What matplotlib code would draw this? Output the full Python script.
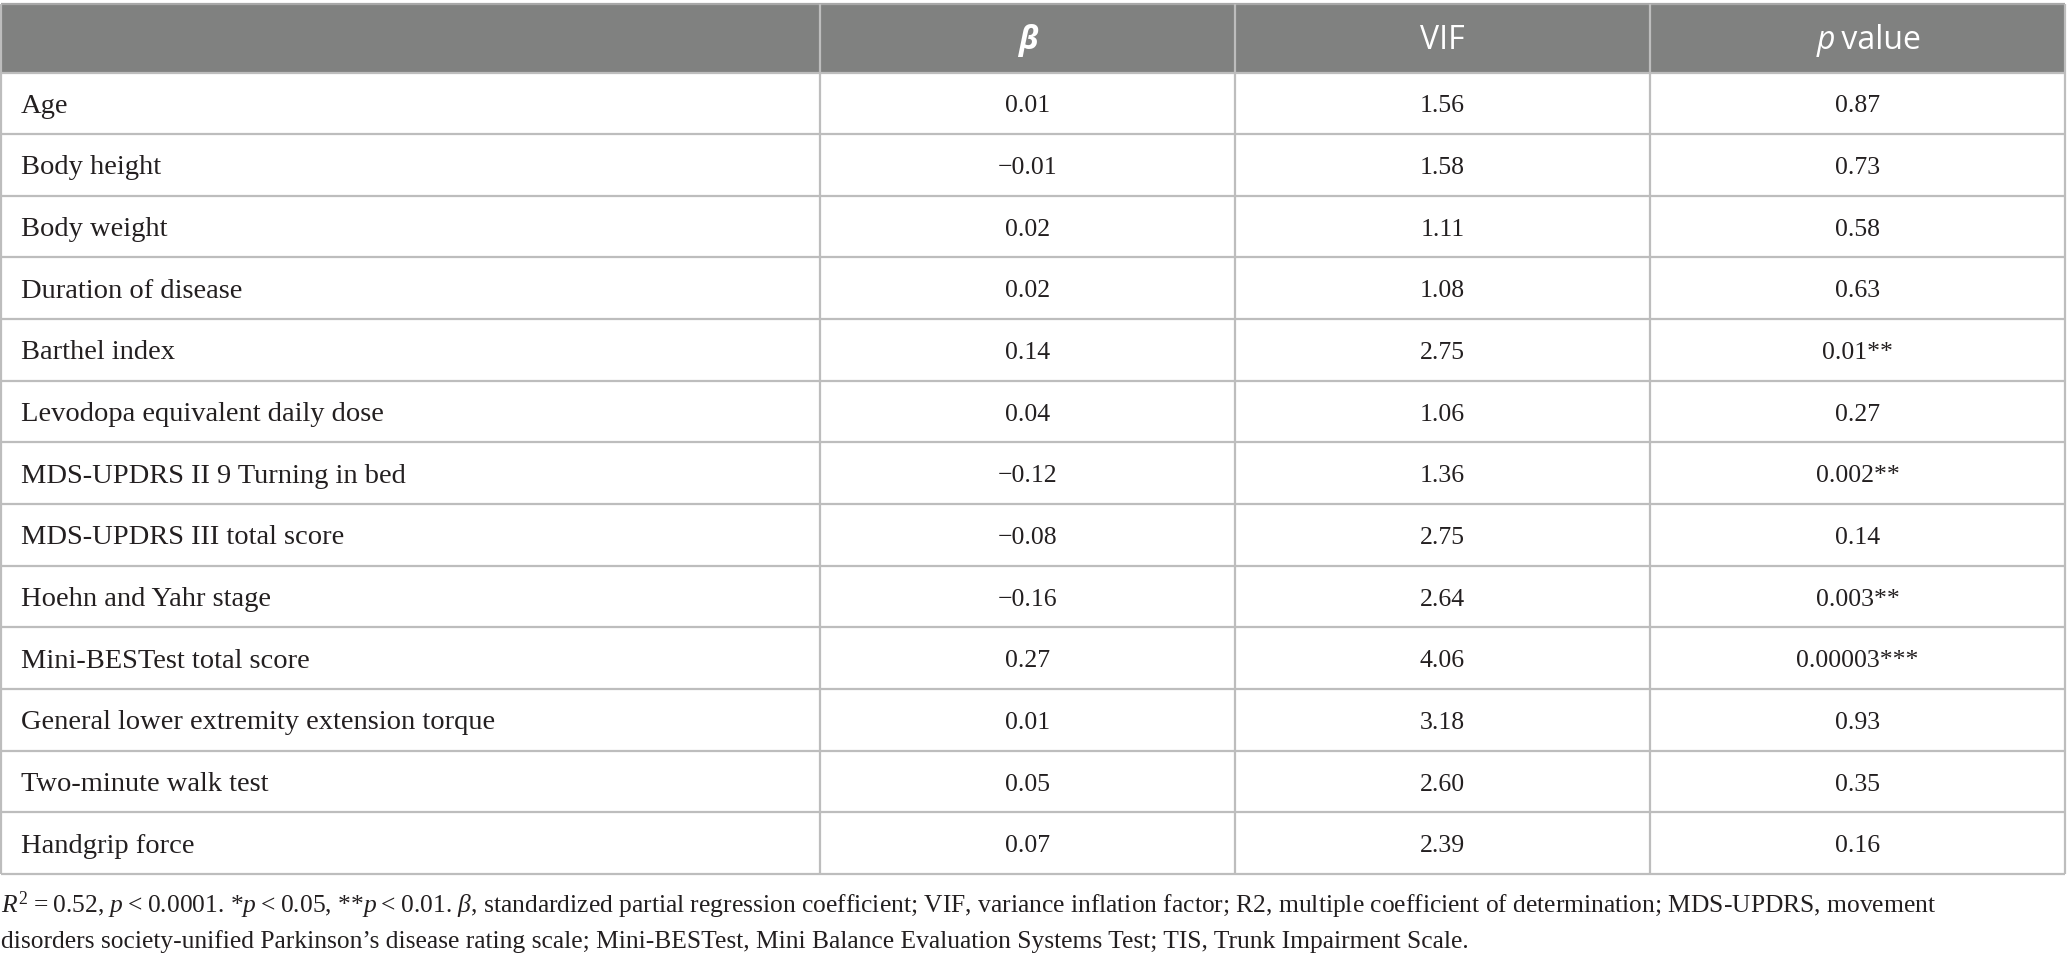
import matplotlib
matplotlib.use("Agg")
import matplotlib.pyplot as plt
from matplotlib.patches import Rectangle

# ---------------- data ----------------
variables = [
    "Age", "Body height", "Body weight", "Duration of disease", "Barthel index",
    "Levodopa equivalent daily dose", "MDS-UPDRS II 9 Turning in bed",
    "MDS-UPDRS III total score", "Hoehn and Yahr stage", "Mini-BESTest total score",
    "General lower extremity extension torque", "Two-minute walk test", "Handgrip force",
]
beta = ["0.01", "\u22120.01", "0.02", "0.02", "0.14", "0.04", "\u22120.12",
        "\u22120.08", "\u22120.16", "0.27", "0.01", "0.05", "0.07"]
vif = ["1.56", "1.58", "1.11", "1.08", "2.75", "1.06", "1.36", "2.75", "2.64",
       "4.06", "3.18", "2.60", "2.39"]
p_values = ["0.87", "0.73", "0.58", "0.63", "0.01**", "0.27", "0.002**", "0.14",
            "0.003**", "0.00003***", "0.93", "0.35", "0.16"]
footnote_1 = ("$R^{2}$\u2009=\u20090.52, $p$\u2009<\u20090.0001. *$p$\u2009<\u20090.05, **$p$\u2009<\u20090.01. "
              "$\u03b2$, standardized partial regression coefficient; VIF, variance inflation factor; "
              "R2, multiple coefficient of determination; MDS-UPDRS, movement")
footnote_2 = ("disorders society-unified Parkinson\u2019s disease rating scale; Mini-BESTest, "
              "Mini Balance Evaluation Systems Test; TIS, Trunk Impairment Scale.")

# ---------------- style ----------------
W, H = 2067, 964
SERIF = "Liberation Serif"
SANS = "Open Sans"
plt.rcParams["mathtext.fontset"] = "custom"
plt.rcParams["mathtext.rm"] = SERIF
plt.rcParams["mathtext.it"] = SERIF + ":italic"
plt.rcParams["mathtext.bf"] = SERIF + ":bold"

fig = plt.figure(figsize=(W / 100, H / 100), dpi=100)
ax = fig.add_axes([0, 0, 1, 1])
ax.set_xlim(0, W)
ax.set_ylim(H, 0)
ax.axis("off")

col_x = [1, 820, 1235, 1650, 2065]
top, head_bot, bottom = 4, 72.5, 874
n = len(variables)
row_h = (bottom - head_bot) / n

header_color = "#808180"
grid_color = "#bdbdbd"
text_color = "#231f20"
name_fs = 20.5
num_fs = 18.5
foot_fs = 18.4
head_fs = 23

# header background
ax.add_patch(Rectangle((col_x[0], top), col_x[-1] - col_x[0], head_bot - top,
                       facecolor=header_color, edgecolor="none", zorder=1))

# grid lines
ax.hlines([top], col_x[0], col_x[-1], color="#a8a8a8", lw=1.6, zorder=3)
ax.hlines([head_bot + i * row_h for i in range(n + 1)], col_x[0], col_x[-1],
          color=grid_color, lw=1.6, zorder=3)
ax.vlines(col_x, top, bottom, color=grid_color, lw=1.6, zorder=3)

# header text
hy = (top + head_bot) / 2 + 2
def cx(i):
    return (col_x[i] + col_x[i + 1]) / 2
ax.text(cx(1), hy, "\u03b2", color="white", fontsize=head_fs, family=SANS,
        style="italic", weight="bold", ha="center", va="center", zorder=4)
ax.text(cx(2), hy, "VIF", color="white", fontsize=head_fs, family=SANS,
        ha="center", va="center", zorder=4)
ax.text(cx(3) - 22, hy, "p", color="white", fontsize=head_fs, family=SANS,
        style="italic", ha="right", va="center", zorder=4)
ax.text(cx(3) - 22, hy, "\u2009value", color="white", fontsize=head_fs, family=SANS,
        ha="left", va="center", zorder=4)

# body
for i in range(n):
    y = head_bot + (i + 0.5) * row_h + 3
    ax.text(21, y, variables[i], fontsize=name_fs, family=SERIF, color=text_color,
            ha="left", va="center", zorder=4)
    ax.text(cx(1), y, beta[i], fontsize=num_fs, family=SERIF, color=text_color,
            ha="center", va="center", zorder=4)
    ax.text(cx(2), y, vif[i], fontsize=num_fs, family=SERIF, color=text_color,
            ha="center", va="center", zorder=4)
    ax.text(cx(3), y, p_values[i], fontsize=num_fs, family=SERIF, color=text_color,
            ha="center", va="center", zorder=4)

# footnote
ax.text(1, 913, footnote_1, fontsize=foot_fs, family=SERIF, color=text_color,
        ha="left", va="baseline")
ax.text(1, 948, footnote_2, fontsize=foot_fs, family=SERIF, color=text_color,
        ha="left", va="baseline")

fig.savefig("out.png", dpi=100, facecolor="white")
